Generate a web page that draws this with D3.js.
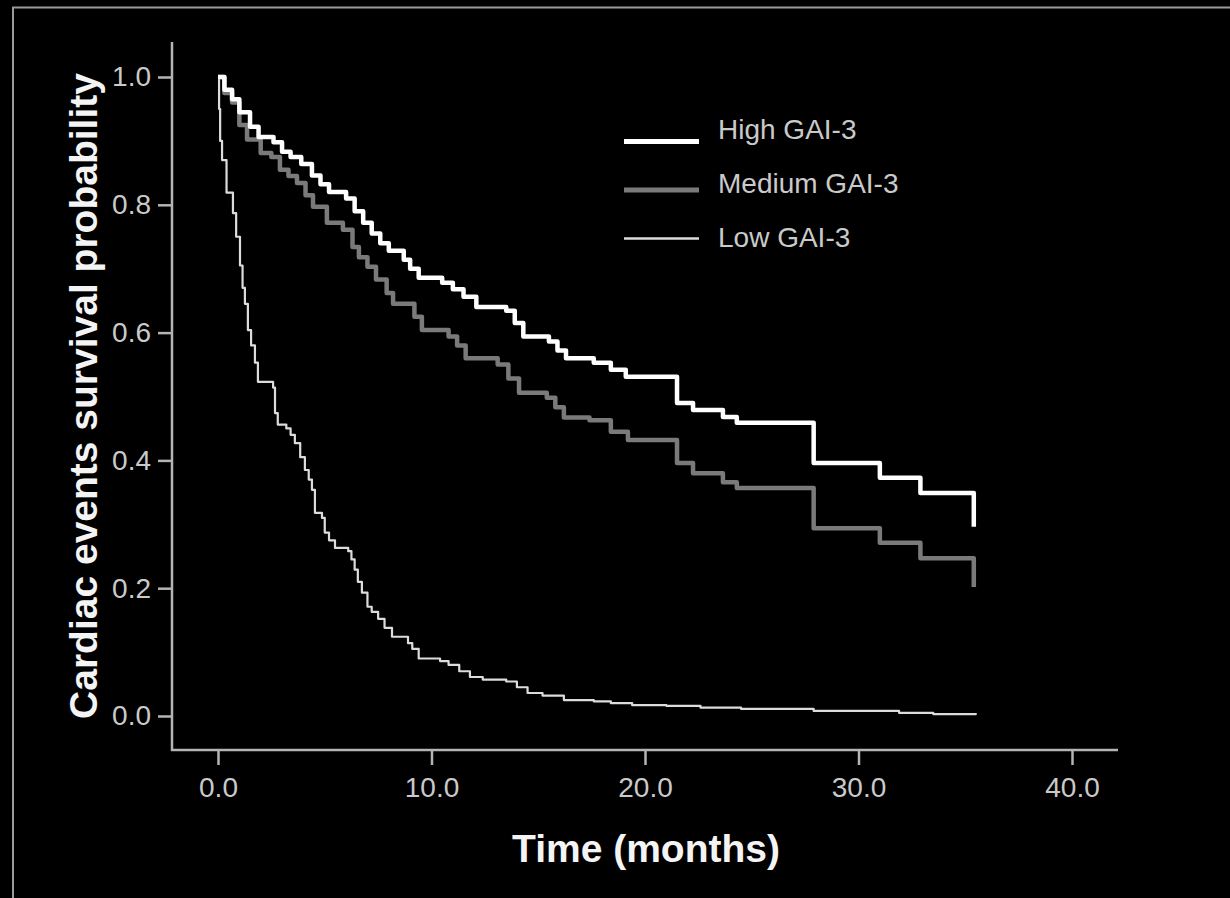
<!DOCTYPE html>
<html>
<head>
<meta charset="utf-8">
<script src="https://cdn.jsdelivr.net/npm/d3@7"></script>
<style>
  html, body { margin: 0; padding: 0; background: #000; }
  svg { display: block; }
</style>
</head>
<body>
<div id="chart"></div>
<script>
var width = 1230, height = 898;

// Kaplan-Meier curves: [months, survival]
var highGAI = [[0,1.000],[0.3,0.980],[0.66,0.965],[1.0,0.945],[1.5,0.922],[1.9,0.906],[2.6,0.898],[3.0,0.883],
  [3.4,0.875],[3.9,0.864],[4.4,0.846],[4.8,0.832],[5.2,0.820],[6.0,0.810],[6.4,0.790],[6.8,0.772],[7.2,0.755],
  [7.6,0.740],[8.0,0.728],[8.7,0.714],[9.0,0.700],[9.4,0.686],[10.5,0.678],[11.0,0.668],[11.5,0.656],[12.1,0.640],
  [13.5,0.634],[13.9,0.615],[14.3,0.594],[15.5,0.586],[15.9,0.572],[16.3,0.560],[17.6,0.553],[18.4,0.542],
  [19.1,0.531],[21.5,0.490],[22.25,0.479],[23.65,0.468],[24.3,0.459],[27.9,0.396],[31.0,0.373],[32.9,0.349],
  [35.4,0.296]];

var mediumGAI = [[0,1.000],[0.3,0.975],[0.66,0.960],[1.0,0.925],[1.36,0.902],[2.0,0.881],[2.5,0.875],[2.9,0.855],
  [3.3,0.845],[3.7,0.834],[4.1,0.815],[4.45,0.797],[5.1,0.772],[5.85,0.761],[6.3,0.734],[6.6,0.718],[7.0,0.703],
  [7.4,0.683],[7.9,0.662],[8.2,0.645],[9.2,0.625],[9.55,0.604],[10.8,0.594],[11.2,0.580],[11.6,0.560],[13.1,0.550],
  [13.6,0.528],[14.1,0.506],[15.4,0.498],[15.8,0.483],[16.2,0.467],[17.4,0.463],[18.4,0.445],[19.2,0.432],
  [21.5,0.396],[22.25,0.380],[23.65,0.366],[24.3,0.357],[27.9,0.294],[31.0,0.271],[32.9,0.247],[35.4,0.202]];

var lowGAI = [[0,1.000],[0.05,0.950],[0.1,0.900],[0.19,0.870],[0.4,0.819],[0.7,0.787],[0.85,0.750],[1.03,0.705],
  [1.15,0.670],[1.26,0.645],[1.4,0.604],[1.55,0.580],[1.73,0.553],[1.87,0.523],[2.58,0.514],[2.67,0.474],
  [2.8,0.456],[3.2,0.450],[3.4,0.440],[3.6,0.427],[3.85,0.405],[4.07,0.385],[4.25,0.370],[4.4,0.354],[4.54,0.318],
  [4.87,0.310],[5.0,0.287],[5.2,0.275],[5.48,0.263],[6.1,0.258],[6.25,0.245],[6.4,0.229],[6.55,0.210],[6.74,0.193],
  [7.0,0.171],[7.2,0.163],[7.5,0.152],[7.8,0.138],[8.15,0.124],[8.9,0.114],[9.1,0.105],[9.4,0.090],[10.4,0.086],
  [10.8,0.080],[11.3,0.070],[11.8,0.061],[12.4,0.057],[13.5,0.054],[14.0,0.045],[14.5,0.036],[15.2,0.032],
  [16.2,0.025],[17.6,0.023],[18.4,0.020],[19.4,0.017],[21.0,0.016],[22.6,0.013],[24.5,0.011],[27.9,0.008],
  [31.9,0.005],[33.5,0.003],[35.5,0.002]];

var seriesNames = ["High GAI-3", "Medium GAI-3", "Low GAI-3"];
var xTicks = [0, 10, 20, 30, 40],
    yTicks = [0, 0.2, 0.4, 0.6, 0.8, 1.0];

var series = [
  {name: seriesNames[0], values: highGAI,   color: "#ffffff", w: 4.5},
  {name: seriesNames[1], values: mediumGAI, color: "#7a7a7a", w: 4.5},
  {name: seriesNames[2], values: lowGAI,    color: "#dcdcdc", w: 2.2}
];

var svg = d3.select("#chart").append("svg")
            .attr("width", width)
            .attr("height", height)
            .style("background", "#000");

// outer frame (only top and left edges are visible in the picture)
svg.append("path")
   .attr("d", "M13," + height + "V7.5H" + width)
   .attr("fill", "none")
   .attr("stroke", "#9a9a9a")
   .attr("stroke-width", 2);

var xScale = d3.scaleLinear().domain([0, 40]).range([218, 1072]),
    yScale = d3.scaleLinear().domain([0, 1]).range([716, 77]);

var axisColor = "#b4b4b4",
    labelColor = "#cacaca";

// y axis
var yAxis = d3.axisLeft(yScale)
              .tickValues(yTicks)
              .tickFormat(d3.format(".1f"))
              .tickSize(14)
              .tickSizeOuter(0)
              .tickPadding(7);

var gy = svg.append("g")
            .attr("transform", "translate(172,0)")
            .call(yAxis);
gy.select(".domain").remove();
gy.append("line")
  .attr("x1", 0).attr("x2", 0)
  .attr("y1", 42).attr("y2", 751)
  .attr("stroke", axisColor)
  .attr("stroke-width", 2.5);

// x axis
var xAxis = d3.axisBottom(xScale)
              .tickValues(xTicks)
              .tickFormat(d3.format(".1f"))
              .tickSize(15)
              .tickSizeOuter(0)
              .tickPadding(12);

var gx = svg.append("g")
            .attr("transform", "translate(0,750)")
            .call(xAxis);
gx.select(".domain").remove();
gx.append("line")
  .attr("x1", 171).attr("x2", 1118)
  .attr("y1", 0).attr("y2", 0)
  .attr("stroke", axisColor)
  .attr("stroke-width", 2.5);

svg.selectAll(".tick line")
   .attr("stroke", axisColor)
   .attr("stroke-width", 2.5);

svg.selectAll(".tick text")
   .attr("fill", labelColor)
   .style("font-family", "Liberation Sans, Arial, sans-serif")
   .style("font-size", "28px");

// curves
var line = d3.line()
             .x(function(d) { return xScale(d[0]); })
             .y(function(d) { return yScale(d[1]); })
             .curve(d3.curveStepAfter);

svg.selectAll("path.km")
   .data(series.slice().reverse())
   .enter()
   .append("path")
   .attr("class", "km")
   .attr("d", function(d) { return line(d.values); })
   .attr("fill", "none")
   .attr("stroke", function(d) { return d.color; })
   .attr("stroke-width", function(d) { return d.w; })
   .attr("stroke-linejoin", "round");

// legend
var legend = svg.selectAll("g.legend")
                .data(series)
                .enter()
                .append("g")
                .attr("class", "legend");

legend.append("line")
      .attr("x1", 624).attr("x2", 699)
      .attr("y1", function(d, i) { return 141.5 + i * 48.5; })
      .attr("y2", function(d, i) { return 141.5 + i * 48.5; })
      .attr("stroke", function(d) { return d.color; })
      .attr("stroke-width", function(d) { return d.w + 0.5; });

legend.append("text")
      .attr("x", 718)
      .attr("y", function(d, i) { return 139 + i * 54; })
      .attr("fill", labelColor)
      .style("font-family", "Liberation Sans, Arial, sans-serif")
      .style("font-size", "28px")
      .text(function(d) { return d.name; });

// axis titles
svg.append("text")
   .attr("transform", "translate(97,396) rotate(-90)")
   .attr("text-anchor", "middle")
   .attr("fill", "#f4f4f4")
   .style("font-family", "Liberation Sans, Arial, sans-serif")
   .style("font-weight", "bold")
   .style("font-size", "39px")
   .text("Cardiac events survival probability");

svg.append("text")
   .attr("x", 646)
   .attr("y", 862)
   .attr("text-anchor", "middle")
   .attr("fill", "#f4f4f4")
   .style("font-family", "Liberation Sans, Arial, sans-serif")
   .style("font-weight", "bold")
   .style("font-size", "39px")
   .text("Time (months)");
</script>
</body>
</html>
